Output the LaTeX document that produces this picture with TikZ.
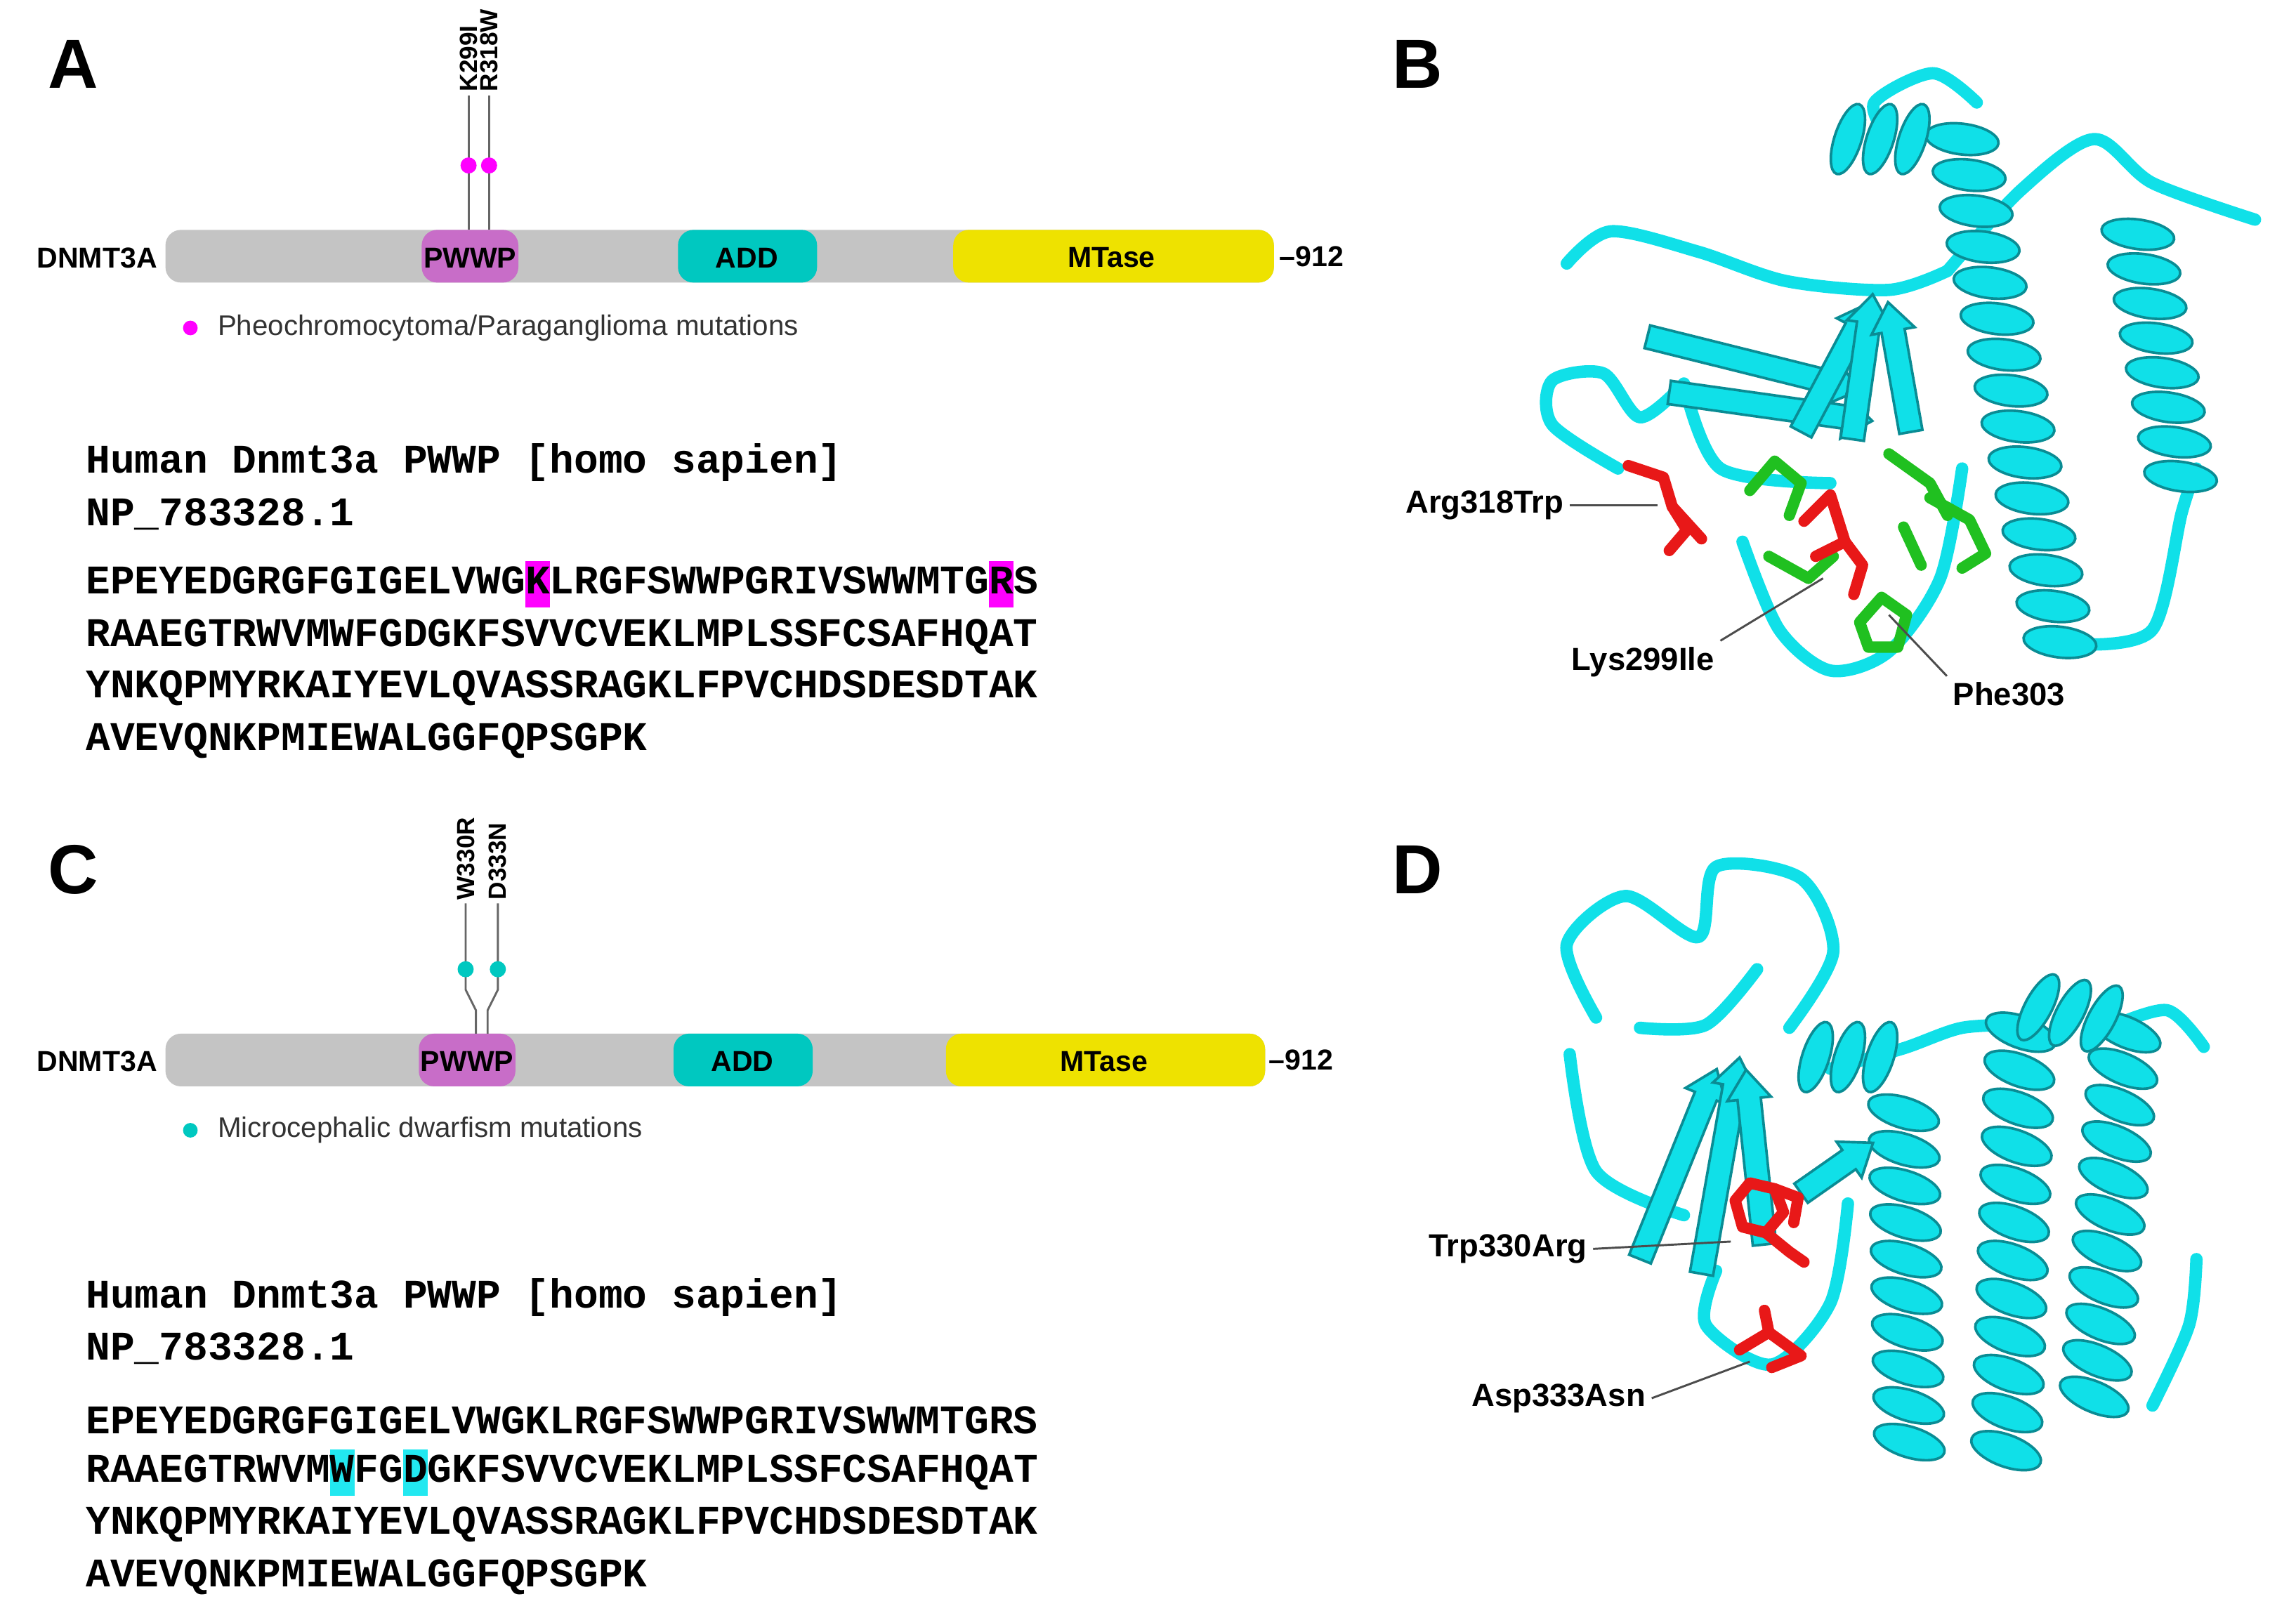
\documentclass[tikz,border=0pt]{standalone}
\usepackage{fontspec}
\setmainfont{Liberation Sans}
\newfontfamily\seqfont{Liberation Mono}
\definecolor{pwwp}{HTML}{C86DC8}
\definecolor{addc}{HTML}{00C8C0}
\definecolor{mtc}{HTML}{EEE200}
\definecolor{barc}{HTML}{C4C4C4}
\definecolor{hlc}{HTML}{22E8F0}
\definecolor{mag}{HTML}{FF00FF}
\definecolor{cy}{HTML}{10E0E8}
\definecolor{cyd}{HTML}{0A8C94}
\definecolor{grn}{HTML}{20C020}
\definecolor{rd}{HTML}{E81818}
\tikzset{
  lbl/.style={font=\fontsize{6.2}{7}\selectfont\bfseries, inner sep=1pt},
  letter/.style={font=\fontsize{13.5}{14}\selectfont\bfseries, inner sep=0pt},
  seq/.style={font=\seqfont\fontsize{7.9}{9}\selectfont\bfseries, anchor=west, inner sep=0pt},
  domtxt/.style={font=\fontsize{5.6}{6}\selectfont\bfseries, inner sep=0pt},
  leg/.style={font=\fontsize{5.5}{6}\selectfont, anchor=west, inner sep=0pt, text=black!80},
  pin/.style={font=\fontsize{4.8}{5}\selectfont\bfseries, rotate=90, anchor=west, inner sep=0.5pt, text=black},
  loopc/.style={draw=cy, line width=2.4pt, line cap=round, line join=round},
  hel/.style={fill=cy, draw=cyd, line width=0.5pt},
  stickg/.style={draw=grn, line width=2.2pt, line join=round, line cap=round},
  stickr/.style={draw=rd, line width=2.2pt, line join=round, line cap=round},
  ptr/.style={draw=black!70, line width=0.4pt}
}
\newcommand\hlm[1]{{\setlength\fboxsep{0pt}\colorbox{mag}{\strut#1}}}
\newcommand\hlc[1]{{\setlength\fboxsep{0pt}\colorbox{hlc}{\strut#1}}}
\newcommand\myhelix[5]{\begin{scope}[shift={(#1,#2)},rotate=#3]
  \foreach \i in {0,...,#4}{\path[hel] (\i*#5,0) ellipse [x radius=#5*0.42, y radius=25, rotate=-18];}
  \end{scope}}
\newcommand\mystrand[4]{\begin{scope}[shift={(#1,#2)},rotate=#3]
  \path[hel] (0,-8)--(#4-20,-8)--(#4-20,-15)--(#4,0)--(#4-20,15)--(#4-20,8)--(0,8)--cycle;
  \end{scope}}
\begin{document}
\begin{tikzpicture}[x=0.01cm,y=-0.01cm]
\useasboundingbox (0,0) rectangle (1568,1105);
% ---------- Panel A
\node[letter] (la) at (50,44) {A};
\fill[barc,rounded corners=3pt] (113,157) rectangle (870,193);
\fill[pwwp,rounded corners=3pt] (288,157) rectangle (354,193);
\fill[addc,rounded corners=3pt] (463,157) rectangle (558,193);
\fill[mtc,rounded corners=3pt] (651,157) rectangle (870,193);
\node[domtxt] (pa) at (321,176) {PWWP};
\node[domtxt] (aa) at (510,176) {ADD};
\node[domtxt] (ma) at (759,176) {MTase};
\node[domtxt,anchor=east] (na) at (108,176) {DNMT3A};
\node[domtxt,anchor=west] (ea) at (873,175) {--912};
\coordinate (ka) at (320,157); \coordinate (ra) at (334,157);
\draw[black!60] (ka) -- (320,65) node[pin] (kal) {K299I};
\draw[black!60] (ra) -- (334,65) node[pin] (ral) {R318W};
\fill[mag] (320,113) circle (5.5); \fill[mag] (334,113) circle (5.5);
\fill[mag] (130,224) circle (5);
\node[leg] (lga) at (148,224) {Pheochromocytoma/Paraganglioma mutations};
\node[seq] (ha) at (58,316) {Human Dnmt3a PWWP [homo sapien]};
\node[seq] (npa) at (58,351) {NP\_783328.1};
\node[seq] (s1a) at (58,399) {EPEYEDGRGFGIGELVWG\hlm{K}LRGFSWWPGRIVSWWMTG\hlm{R}S};
\node[seq] (s2a) at (58,435) {RAAEGTRWVMWFGDGKFSVVCVEKLMPLSSFCSAFHQAT};
\node[seq] (s3a) at (58,470) {YNKQPMYRKAIYEVLQVASSRAGKLFPVCHDSDESDTAK};
\node[seq] (s4a) at (58,506) {AVEVQNKPMIEWALGGFQPSGPK};
% ---------- Panel C
\node[letter] (lc) at (50,594) {C};
\fill[barc,rounded corners=3pt] (113,706) rectangle (864,742);
\fill[pwwp,rounded corners=3pt] (286,706) rectangle (352,742);
\fill[addc,rounded corners=3pt] (460,706) rectangle (555,742);
\fill[mtc,rounded corners=3pt] (646,706) rectangle (864,742);
\node[domtxt] (pc) at (319,725) {PWWP};
\node[domtxt] (ac) at (507,725) {ADD};
\node[domtxt] (mc) at (754,725) {MTase};
\node[domtxt,anchor=east] (nc) at (108,725) {DNMT3A};
\node[domtxt,anchor=west] (ec) at (866,724) {--912};
\coordinate (wc) at (325,706); \coordinate (dc) at (333,706);
\draw[black!60] (wc) -- (325,690) -- (318,676) -- (318,617) node[pin] (wcl) {W330R};
\draw[black!60] (dc) -- (333,690) -- (340,676) -- (340,617) node[pin] (dcl) {D333N};
\fill[addc] (318,662) circle (5.5); \fill[addc] (340,662) circle (5.5);
\fill[addc] (130,772) circle (5);
\node[leg] (lgc) at (148,772) {Microcephalic dwarfism mutations};
\node[seq] (hc) at (58,886) {Human Dnmt3a PWWP [homo sapien]};
\node[seq] (npc) at (58,921) {NP\_783328.1};
\node[seq] (s1c) at (58,970) {EPEYEDGRGFGIGELVWGKLRGFSWWPGRIVSWWMTGRS};
\node[seq] (s2c) at (58,1006) {RAAEGTRWVM\hlc{W}FG\hlc{D}GKFSVVCVEKLMPLSSFCSAFHQAT};
\node[seq] (s3c) at (58,1041) {YNKQPMYRKAIYEVLQVASSRAGKLFPVCHDSDESDTAK};
\node[seq] (s4c) at (58,1077) {AVEVQNKPMIEWALGGFQPSGPK};
% ---------- Panel B
\node[letter] (lb) at (968,44) {B};
\draw[loopc] plot[smooth] coordinates {(1070,180) (1100,158) (1160,172) (1220,192) (1290,198) (1330,185)};
\draw[loopc] plot[smooth] coordinates {(1330,185) (1380,130) (1430,95) (1470,125) (1540,150)};
\draw[loopc] plot[smooth] coordinates {(1290,95) (1280,70) (1320,50) (1350,70)};
\draw[loopc] plot[smooth] coordinates {(1105,320) (1060,290) (1060,260) (1095,255) (1120,285) (1150,262)};
\draw[loopc] plot[smooth] coordinates {(1190,370) (1215,430) (1250,458) (1290,445) (1325,395) (1340,320)};
\draw[loopc] plot[smooth] coordinates {(1150,262) (1175,320) (1250,330)};
\draw[loopc] plot[smooth] coordinates {(1420,440) (1470,430) (1490,350) (1500,320)};
\myhelix{1340}{95}{-79}{14}{25}
\myhelix{1262}{95}{0}{2}{22}
\myhelix{1460}{160}{-80}{7}{24}
\mystrand{1125}{230}{-14}{150}
\mystrand{1140}{268}{-8}{140}
\mystrand{1230}{295}{62}{100}
\mystrand{1265}{300}{82}{100}
\mystrand{1305}{295}{100}{90}
\draw[stickg] (1195,335)--(1212,315)--(1230,330)--(1222,352);
\draw[stickg] (1290,310)--(1318,330)--(1330,352);
\draw[stickg] (1208,380)--(1235,395)--(1252,380);
\draw[stickg] (1270,425)--(1285,408)--(1302,420)--(1296,442)--(1276,442)--cycle;
\draw[stickg] (1318,340)--(1345,355)--(1356,378)--(1340,388);
\draw[stickg] (1300,360)--(1312,386);
\draw[stickr] (1232,356)--(1250,338)--(1260,370)--(1272,386)--(1266,406);
\draw[stickr] (1260,370)--(1240,380);
\draw[stickr] (1112,318)--(1136,326)--(1142,346)--(1152,362)--(1140,376);
\draw[stickr] (1142,346)--(1162,368);
\node[lbl,anchor=east] (arg) at (1072,345) {Arg318Trp};
\node[lbl] (lys) at (1122,452) {Lys299Ile};
\node[lbl] (phe) at (1372,474) {Phe303};
\coordinate (argp) at (1132,345); \coordinate (lysp) at (1245,395); \coordinate (phep) at (1290,420);
\draw[ptr] (arg.east) -- (argp);
\draw[ptr] (lys.north east) -- (lysp);
\draw[ptr] (phe.north west) -- (phep);
% ---------- Panel D
\node[letter] (ld) at (968,594) {D};
\draw[loopc] plot[smooth] coordinates {(1090,695) (1070,645) (1110,612) (1160,640) (1172,592) (1230,600) (1252,650) (1222,702)};
\draw[loopc] plot[smooth] coordinates {(1120,702) (1165,700) (1200,662)};
\draw[loopc] plot[smooth] coordinates {(1072,720) (1090,800) (1150,830)};
\draw[loopc] plot[smooth] coordinates {(1172,868) (1165,905) (1210,932) (1250,890) (1262,822)};
\draw[loopc] plot[smooth] coordinates {(1250,730) (1300,716) (1340,702) (1382,700)};
\draw[loopc] plot[smooth] coordinates {(1440,702) (1480,690) (1505,715)};
\draw[loopc] plot[smooth] coordinates {(1470,960) (1495,905) (1500,860)};
\myhelix{1300}{760}{-89}{9}{25}
\myhelix{1380}{705}{-92}{11}{26}
\myhelix{1452}{705}{-95}{10}{25}
\myhelix{1240}{722}{0}{2}{22}
\myhelix{1392}{688}{-10}{2}{22}
\mystrand{1120}{860}{68}{140}
\mystrand{1162}{870}{80}{150}
\mystrand{1205}{850}{96}{120}
\mystrand{1230}{815}{35}{60}
\draw[stickr] (1185,820)--(1195,808)--(1212,812)--(1218,828)--(1206,842)--(1190,838)--cycle;
\draw[stickr] (1206,842)--(1222,855)--(1232,862);
\draw[stickr] (1212,812)--(1228,818)--(1225,835);
\draw[stickr] (1188,922)--(1208,910)--(1230,926)--(1210,934);
\draw[stickr] (1208,910)--(1205,895);
\node[lbl,anchor=east] (trp) at (1088,853) {Trp330Arg};
\node[lbl,anchor=east] (asp) at (1128,955) {Asp333Asn};
\coordinate (trpp) at (1182,848); \coordinate (aspp) at (1195,930);
\draw[ptr] (trp.east) -- (trpp);
\draw[ptr] (asp.east) -- (aspp);
\end{tikzpicture}
\end{document}
